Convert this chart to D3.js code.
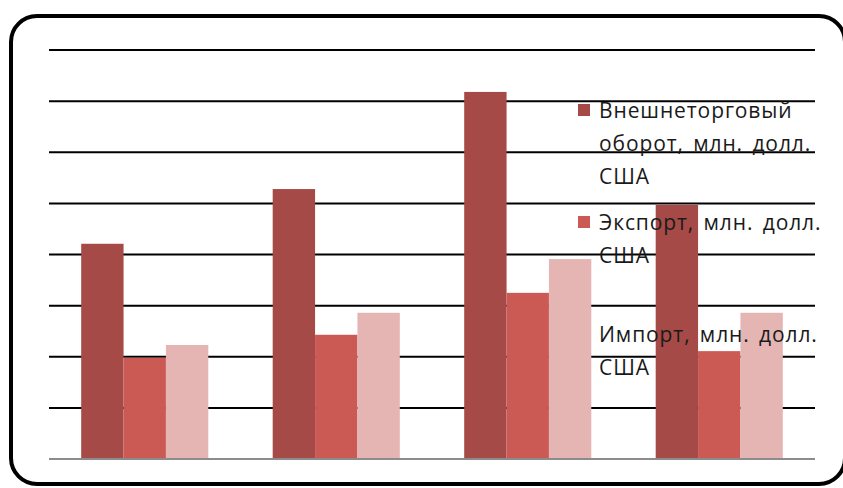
<!DOCTYPE html>
<html>
<head>
<meta charset="utf-8">
<script src="https://cdn.jsdelivr.net/npm/d3@7"></script>
<style>
  body { margin: 0; background: #fff; }
  svg { display: block; }
</style>
</head>
<body>
<div id="chart"></div>
<script>
const categories = ["1", "2", "3", "4"];
const seriesNames = [
  ["Внешнеторговый", "оборот, млн. долл.", "США"],
  ["Экспорт, млн. долл.", "США"],
  ["Импорт, млн. долл.", "США"]
];
const turnover = [4.21, 5.28, 7.18, 4.97];
const exportVals = [1.98, 2.43, 3.25, 2.11];
const importVals = [2.23, 2.86, 3.91, 2.86];
const yTicks = [0, 1, 2, 3, 4, 5, 6, 7, 8];
const colors = ["#A64A47", "#CB5A55", "#E4B5B3"];

const width = 843, height = 488;
const margin = { left: 49, right: 28, top: 50, bottom: 29 };

const svg = d3.select("#chart").append("svg")
  .attr("width", width)
  .attr("height", height);

// outer rounded frame
svg.append("rect")
  .attr("x", 11).attr("y", 16)
  .attr("width", 834).attr("height", 468)
  .attr("rx", 26).attr("ry", 26)
  .attr("fill", "#fff")
  .attr("stroke", "#000")
  .attr("stroke-width", 4);

const x0 = d3.scaleBand()
  .domain(categories)
  .range([margin.left, width - margin.right])
  .paddingInner(0)
  .paddingOuter(0);

const x1 = d3.scaleBand()
  .domain([0, 1, 2])
  .range([0, x0.bandwidth()])
  .paddingOuter(0.76)
  .paddingInner(0);

const y = d3.scaleLinear()
  .domain([0, 8])
  .range([height - margin.bottom, margin.top]);

// gridlines
svg.append("g")
  .selectAll("line")
  .data(yTicks.filter(d => d > 0))
  .enter().append("line")
  .attr("x1", margin.left)
  .attr("x2", width - margin.right)
  .attr("y1", d => y(d))
  .attr("y2", d => y(d))
  .attr("stroke", "#000")
  .attr("stroke-width", 2);

// bars
const series = [turnover, exportVals, importVals];
const groups = svg.append("g")
  .selectAll("g")
  .data(categories)
  .enter().append("g")
  .attr("transform", d => `translate(${x0(d)},0)`);

groups.selectAll("rect")
  .data((d, i) => series.map((s, k) => ({ k: k, v: s[i] })))
  .enter().append("rect")
  .attr("x", d => x1(d.k))
  .attr("width", x1.bandwidth())
  .attr("y", d => y(d.v))
  .attr("height", d => y(0) - y(d.v))
  .attr("fill", d => colors[d.k]);

// baseline
svg.append("line")
  .attr("x1", margin.left)
  .attr("x2", width - margin.right)
  .attr("y1", y(0))
  .attr("y2", y(0))
  .attr("stroke", "#8c8c8c")
  .attr("stroke-width", 2);

// legend (drawn over the bars, like the original)
const legendTops = [110, 222, 334];
const legend = svg.append("g")
  .selectAll("g")
  .data(seriesNames)
  .enter().append("g")
  .attr("transform", (d, i) => `translate(578,${legendTops[i]})`);

legend.append("rect")
  .attr("x", 0).attr("y", -6)
  .attr("width", 12).attr("height", 12)
  .attr("fill", (d, i) => colors[i]);

legend.each(function(lines) {
  d3.select(this).selectAll("text")
    .data(lines)
    .enter().append("text")
    .attr("x", 21)
    .attr("y", (d, j) => j * 33)
    .attr("dy", "0.36em")
    .attr("font-family", "Open Sans, sans-serif")
    .attr("font-size", 21)
    .attr("letter-spacing", 0.9)
    .attr("word-spacing", 3)
    .attr("fill", "#1a1a1a")
    .text(d => d);
});
</script>
</body>
</html>
